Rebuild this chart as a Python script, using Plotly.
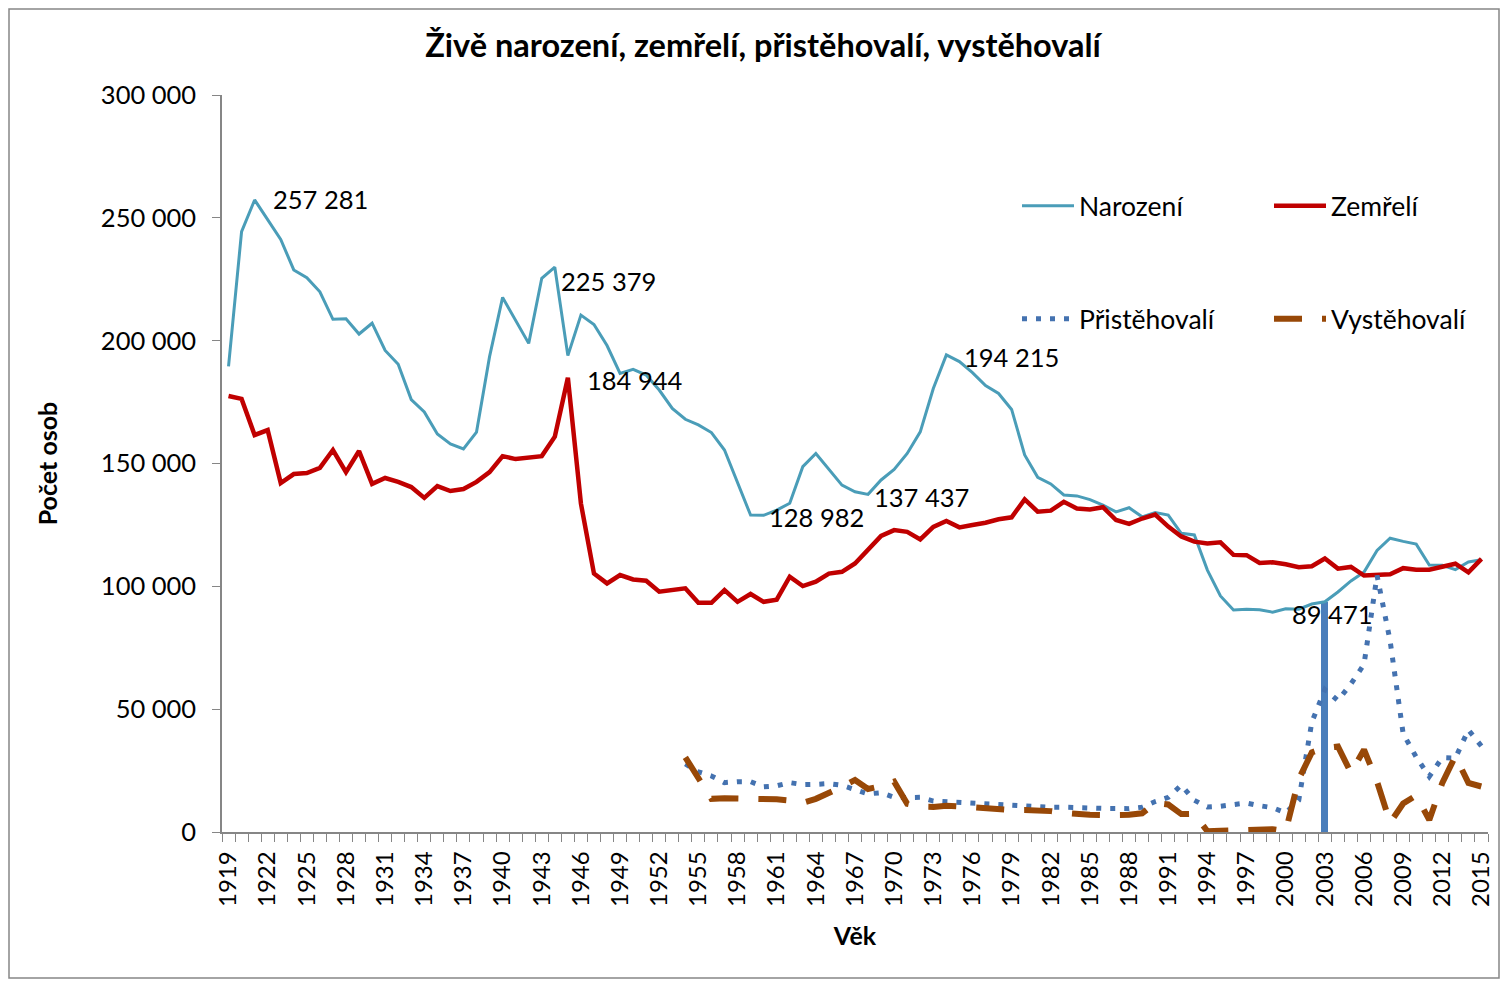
import plotly.graph_objects as go

# ---------------- data ----------------
years = list(range(1919, 2016))

births = [
    189500, 244400, 257281, 249400, 241200, 228800, 225600, 219900, 208700, 208900,
    202700, 207100, 196000, 190400, 176000, 171000, 162000, 158000, 155900, 162800,
    193500, 217600, 208400, 198900, 225379, 229900, 193900, 210400, 206600, 198000,
    186700, 188300, 186000, 179900, 172400, 168000, 165700, 162600, 155500, 141900,
    128982, 128900, 131000, 133800, 148700, 154100, 147600, 141200, 138500, 137437,
    143300, 147600, 154100, 162900, 180500, 194215, 191500, 187000, 181700, 178500,
    172000, 153500, 144400, 141700, 137200, 136800, 135300, 133100, 130300, 132000,
    128300, 130000, 129000, 121600, 120900, 106600, 96100, 90400, 90700, 90500,
    89471, 90900, 90700, 92800, 93700, 97700, 102200, 105800, 114600, 119600,
    118300, 117200, 108700, 108600, 106800, 109900, 110800,
]

deaths = [
    177500, 176300, 161600, 163600, 142000, 145700, 146100, 148200, 155500, 146500,
    155100, 141700, 144100, 142500, 140400, 136000, 140800, 138800, 139600, 142500,
    146500, 153000, 151800, 152600, 153000, 160900, 184944, 133700, 105200, 101200,
    104600, 102800, 102300, 97800, 98500, 99200, 93300, 93300, 98500, 93700,
    96900, 93700, 94600, 103900, 100100, 101900, 105200, 105900, 109300, 114800,
    120500, 122900, 122200, 119100, 124200, 126600, 124000, 125000, 125900, 127300,
    128100, 135400, 130400, 130800, 134400, 131700, 131300, 132200, 127000, 125400,
    127600, 129200, 124300, 120300, 118200, 117400, 117900, 112800, 112700, 109500,
    109800, 109000, 107800, 108200, 111300, 107200, 107900, 104400, 104600, 104900,
    107400, 106800, 106800, 108200, 109200, 105700, 111200,
]

mig_years = list(range(1954, 2016))

immigrants = [
    27700, 24500, 22800, 20100, 20500, 20500, 18400, 18800, 20100, 19300,
    19400, 19700, 19000, 17100, 15500, 16000, 14100, 14000, 14100, 12600,
    12300, 11900, 11700, 11300, 11000, 10700, 10600, 10400, 10100, 10100,
    9800, 9800, 9600, 9600, 9500, 10100, 12400, 14100, 19100, 12900,
    10200, 10500, 10900, 11800, 10700, 9900, 7800, 12900, 44700, 58000,
    53500, 60300, 68200, 104400, 77800, 40000, 30500, 22600, 30300, 30100,
    41600, 34900,
]

emigrants = [
    30400, 21800, 13500, 13700, 13700, 13600, 13300, 13300, 12800, 11900,
    13500, 15700, 18400, 21200, 17500, 18700, 20500, 11500, 10300, 10200,
    10700, 10400, 9900, 9500, 9000, 9000, 9000, 9000, 8500, 7800,
    7200, 7000, 6900, 6900, 7000, 7600, 11800, 11200, 7300, 7400,
    300, 500, 700, 800, 1200, 1100, 300, 21500, 32400, 34200,
    34800, 24100, 33500, 20500, 3800, 11600, 14900, 4900, 20000, 30900,
    20000, 18500,
]

highlight_year = 2003

series_names = ["Narození", "Zemřelí", "Přistěhovalí", "Vystěhovalí"]
title_text = "Živě narození, zemřelí, přistěhovalí, vystěhovalí"
x_title = "Věk"
y_title = "Počet osob"

# labelled points: (series, year)
labelled = [("births", 1921), ("births", 1943), ("deaths", 1945), ("births", 1974),
            ("births", 1968), ("births", 1959), ("births", 1999)]

# ---------------- figure ----------------
FONT = "Lato, 'Open Sans', sans-serif"
AX = "#868686"

fig = go.Figure()

hl_value = births[years.index(highlight_year)]
fig.add_trace(go.Bar(x=[highlight_year], y=[hl_value], width=0.55,
                     marker=dict(color="#4A7EBB", line=dict(width=0)),
                     showlegend=False, hoverinfo="skip"))

fig.add_trace(go.Scatter(x=years, y=births, name=series_names[0], mode="lines",
                         line=dict(color="#4A9DB8", width=3), legend="legend"))
fig.add_trace(go.Scatter(x=years, y=deaths, name=series_names[1], mode="lines",
                         line=dict(color="#C00000", width=4.5), legend="legend"))
fig.add_trace(go.Scatter(x=mig_years, y=immigrants, name=series_names[2], mode="lines",
                         line=dict(color="#4472B0", width=5, dash="5px,9px"),
                         legend="legend2"))
fig.add_trace(go.Scatter(x=mig_years, y=emigrants, name=series_names[3], mode="lines",
                         line=dict(color="#984807", width=6, dash="28px,20px"),
                         legend="legend2"))

# label offsets (pixels) to match positioning
offsets = {("births", 1921): (16, 1), ("births", 1943): (17, -3),
           ("deaths", 1945): (17, -2), ("births", 1974): (16, -2),
           ("births", 1968): (4, -3), ("births", 1959): (16, -2),
           ("births", 1999): (17, -2)}
data_map = {"births": births, "deaths": deaths}
for key in labelled:
    s, yr = key
    v = data_map[s][years.index(yr)]
    dx, dy = offsets[key]
    fig.add_annotation(x=yr, y=v, text=f"{v:,}".replace(",", " "), showarrow=False,
                       xanchor="left", yanchor="middle", xshift=dx, yshift=dy,
                       font=dict(family=FONT, size=25.5, color="black"))

L, R, T, B = 222, 13, 95, 149
W, H = 1501, 981
pw, ph = W - L - R, H - T - B

fig.add_shape(type="rect", xref="paper", yref="paper",
              x0=(9 - L) / pw, x1=(1499 - L) / pw,
              y0=-(978 - (H - B)) / ph, y1=1 + (T - 9) / ph,
              line=dict(color=AX, width=1.5), layer="below")

leg_common = dict(orientation="h", xanchor="left", yanchor="middle", entrywidth=185,
                  entrywidthmode="pixels", itemwidth=52, bgcolor="rgba(0,0,0,0)",
                  font=dict(size=26.5))

fig.update_layout(
    width=W, height=H,
    margin=dict(l=L, r=R, t=T, b=B, autoexpand=False),
    paper_bgcolor="white", plot_bgcolor="white",
    font=dict(family=FONT, size=24, color="black"),
    separators=", ",
    title=dict(text="<b>" + title_text + "</b>", x=(763 - L) / pw, xref="paper",
               xanchor="center", y=1 - 46 / H, yref="container", yanchor="middle",
               font=dict(family=FONT, size=32.5, color="black")),
    xaxis=dict(range=[1918.5, 2015.5], tickmode="linear", tick0=1919, dtick=3,
               tickangle=-90, ticks="", showline=True, linecolor=AX, linewidth=1.5,
               showgrid=False, zeroline=False, ticklabelstandoff=8,
               minor=dict(tick0=1918.5, dtick=1, ticks="outside", ticklen=8,
                          tickcolor=AX, tickwidth=1, showgrid=False),
               title=dict(text="<b>" + x_title + "</b>", standoff=21,
                          font=dict(size=25))),
    yaxis=dict(range=[0, 300000], tickmode="linear", tick0=0, dtick=50000,
               tickformat=",d", ticks="outside", ticklen=8, tickcolor=AX,
               showline=True, linecolor=AX, linewidth=1.5, showgrid=False,
               zeroline=False, ticklabelstandoff=11, tickfont=dict(size=25.5),
               title=dict(text="<b>" + y_title + "</b>", standoff=36,
                          font=dict(size=25))),
    legend=dict(x=(1017 - L) / pw, y=(H - B - 206) / ph, **leg_common),
    legend2=dict(x=(1017 - L) / pw, y=(H - B - 319) / ph, **leg_common),
    bargap=0,
)

fig.write_html("out.html", config={"displayModeBar": False},
               post_script="document.body.style.margin='0';")
